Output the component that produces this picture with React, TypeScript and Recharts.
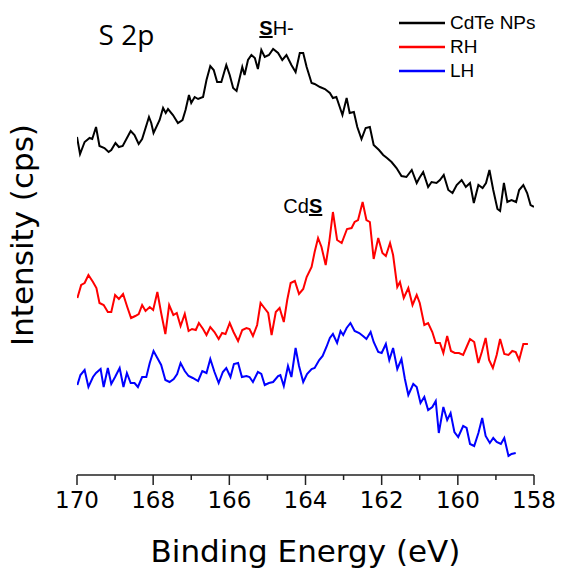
import { LineChart, Line, XAxis, YAxis, Legend, Label, ReferenceDot } from 'recharts'

// S 2p XPS spectra, [binding energy (eV), intensity (a.u.)]
const CDTE_NPS: [number, number][] = [
  [170.0, 338], [169.92, 321], [169.8, 333], [169.67, 337], [169.6, 336], [169.5, 348], [169.41, 329],
  [169.28, 327], [169.17, 323], [169.1, 325], [168.99, 332], [168.9, 328], [168.8, 329], [168.59, 344],
  [168.49, 340], [168.38, 331], [168.29, 336], [168.11, 358], [168.05, 352], [167.99, 342], [167.83, 355],
  [167.74, 367], [167.67, 362], [167.61, 366], [167.48, 360], [167.35, 352], [167.23, 355], [167.15, 365],
  [167.06, 380], [167.0, 372], [166.91, 378], [166.82, 376], [166.69, 378], [166.6, 395], [166.5, 409],
  [166.41, 405], [166.32, 393], [166.21, 393], [166.08, 410], [165.99, 400], [165.9, 387], [165.81, 384],
  [165.66, 408], [165.6, 400], [165.51, 415], [165.42, 420], [165.33, 417], [165.25, 406], [165.16, 425],
  [165.07, 418], [164.96, 420], [164.85, 426], [164.72, 422], [164.61, 415], [164.5, 420], [164.37, 410],
  [164.26, 403], [164.15, 422], [164.06, 422], [163.97, 408], [163.84, 392], [163.76, 391], [163.62, 388],
  [163.49, 386], [163.36, 382], [163.28, 377], [163.19, 378], [163.03, 360], [162.92, 377], [162.84, 362],
  [162.73, 363], [162.64, 348], [162.53, 336], [162.42, 347], [162.31, 348], [162.21, 330], [162.07, 325],
  [161.96, 320], [161.86, 317], [161.74, 313], [161.61, 307], [161.48, 299], [161.35, 298], [161.21, 305],
  [161.08, 292], [161.01, 297], [160.91, 303], [160.78, 288], [160.69, 293], [160.56, 292], [160.47, 295],
  [160.37, 300], [160.25, 285], [160.14, 282], [160.03, 290], [159.9, 295], [159.79, 288], [159.68, 292],
  [159.58, 272], [159.46, 290], [159.35, 287], [159.26, 292], [159.17, 305], [159.07, 285], [158.96, 266],
  [158.89, 264], [158.79, 292], [158.7, 273], [158.59, 275], [158.47, 273], [158.39, 285], [158.28, 290],
  [158.18, 282], [158.09, 270], [158.0, 268],
]

const RH: [number, number][] = [
  [169.99, 177], [169.89, 190], [169.8, 192], [169.7, 200], [169.58, 193], [169.49, 187], [169.41, 172],
  [169.3, 170], [169.19, 163], [169.1, 163], [169.0, 180], [168.9, 176], [168.79, 181], [168.68, 168],
  [168.58, 157], [168.47, 159], [168.38, 161], [168.29, 170], [168.2, 164], [168.09, 168], [168.0, 165],
  [167.89, 183], [167.79, 162], [167.68, 141], [167.58, 170], [167.47, 160], [167.38, 162], [167.28, 149],
  [167.17, 161], [167.07, 144], [166.98, 146], [166.88, 145], [166.8, 152], [166.69, 146], [166.6, 140],
  [166.5, 148], [166.39, 143], [166.28, 136], [166.19, 142], [166.1, 141], [165.99, 152], [165.89, 143],
  [165.77, 134], [165.66, 145], [165.55, 147], [165.47, 146], [165.38, 139], [165.27, 150], [165.18, 172],
  [165.1, 168], [164.98, 162], [164.89, 140], [164.78, 163], [164.68, 167], [164.57, 153], [164.48, 175],
  [164.39, 192], [164.28, 194], [164.17, 181], [164.06, 186], [163.97, 198], [163.84, 208], [163.76, 223],
  [163.67, 237], [163.58, 228], [163.47, 210], [163.38, 232], [163.28, 263], [163.17, 235], [163.05, 232],
  [162.91, 246], [162.79, 247], [162.71, 253], [162.62, 255], [162.5, 273], [162.4, 255], [162.31, 253],
  [162.21, 216], [162.09, 237], [161.98, 222], [161.89, 219], [161.78, 232], [161.7, 220], [161.59, 188],
  [161.52, 193], [161.42, 177], [161.3, 187], [161.19, 170], [161.08, 180], [161.0, 172], [160.88, 150],
  [160.78, 152], [160.67, 143], [160.58, 132], [160.47, 132], [160.38, 122], [160.28, 139], [160.18, 124],
  [160.08, 122], [159.97, 122], [159.86, 120], [159.77, 128], [159.68, 136], [159.57, 133], [159.46, 112],
  [159.37, 123], [159.27, 137], [159.18, 115], [159.08, 107], [158.98, 120], [158.89, 136], [158.78, 121],
  [158.67, 120], [158.57, 124], [158.48, 123], [158.39, 115], [158.28, 131], [158.16, 131],
]

const LH: [number, number][] = [
  [169.99, 90], [169.91, 100], [169.8, 105], [169.7, 88], [169.58, 98], [169.5, 102], [169.38, 106],
  [169.3, 88], [169.19, 107], [169.1, 91], [169.0, 98], [168.88, 107], [168.78, 88], [168.69, 102],
  [168.59, 92], [168.49, 92], [168.4, 88], [168.29, 98], [168.18, 98], [168.09, 112], [167.99, 124],
  [167.89, 117], [167.79, 110], [167.68, 95], [167.57, 93], [167.46, 96], [167.37, 101], [167.28, 112],
  [167.17, 104], [167.07, 99], [166.96, 97], [166.82, 94], [166.71, 104], [166.6, 102], [166.5, 116],
  [166.39, 103], [166.28, 92], [166.17, 103], [166.08, 107], [165.97, 98], [165.88, 111], [165.77, 112],
  [165.67, 98], [165.55, 99], [165.47, 98], [165.38, 93], [165.25, 103], [165.16, 101], [165.07, 90],
  [164.96, 92], [164.85, 93], [164.72, 99], [164.66, 100], [164.57, 89], [164.46, 109], [164.37, 98],
  [164.26, 127], [164.17, 109], [164.06, 93], [163.96, 101], [163.84, 106], [163.76, 107], [163.64, 115],
  [163.55, 119], [163.45, 128], [163.36, 137], [163.28, 141], [163.17, 132], [163.08, 144], [163.01, 140],
  [162.92, 147], [162.82, 152], [162.71, 144], [162.59, 142], [162.49, 139], [162.4, 136], [162.29, 143],
  [162.21, 133], [162.09, 123], [162.0, 122], [161.89, 131], [161.8, 115], [161.7, 127], [161.59, 106],
  [161.48, 116], [161.39, 96], [161.3, 80], [161.17, 91], [161.08, 88], [160.98, 72], [160.88, 78],
  [160.78, 65], [160.67, 68], [160.58, 74], [160.5, 42], [160.38, 68], [160.28, 55], [160.19, 62],
  [160.09, 43], [159.99, 38], [159.86, 49], [159.77, 47], [159.68, 31], [159.57, 29], [159.46, 42],
  [159.36, 57], [159.27, 39], [159.16, 32], [159.07, 37], [158.98, 33], [158.87, 31], [158.78, 37],
  [158.67, 19], [158.59, 21], [158.48, 22],
]

const SERIES_NAMES = ['CdTe NPs', 'RH', 'LH']
const SERIES_COLORS = ['#000000', '#ff0000', '#0000ff']
const ENERGY_TICKS = [170, 169, 168, 167, 166, 165, 164, 163, 162, 161, 160, 159, 158]

const toPoints = (rows: [number, number][]) => rows.map(([E, I]) => ({ E, I }))

const AXIS_FONT = '"DejaVu Sans", sans-serif'
const LABEL_FONT = '"Liberation Sans", Arial, sans-serif'
const PLOT_H = 450

function EnergyTick({ x, y, payload }: any) {
  const major = payload.value % 2 === 0
  return (
    <g>
      <line x1={x} x2={x} y1={y} y2={y + (major ? 10 : 5)} stroke="#222" strokeWidth={1.5} />
      {major && (
        <text x={x} y={y + 33} textAnchor="middle" fontFamily={AXIS_FONT} fontSize={23} fill="#000">
          {payload.value}
        </text>
      )}
    </g>
  )
}

function SeriesLegend({ payload }: any) {
  const items = [...(payload || [])].sort(
    (a: any, b: any) => SERIES_NAMES.indexOf(a.value) - SERIES_NAMES.indexOf(b.value)
  )
  return (
    <div style={{ fontFamily: LABEL_FONT, fontSize: 19, color: '#000' }}>
      {items.map((p: any) => (
        <div key={p.value} style={{ display: 'flex', alignItems: 'center', height: 24 }}>
          <svg width={46} height={4} style={{ marginRight: 5 }}>
            <line x1={0} x2={46} y1={2} y2={2} stroke={p.color} strokeWidth={2.5} />
          </svg>
          <span>{p.value}</span>
        </div>
      ))}
    </div>
  )
}

// axis titles, both hung off the x axis box
function AxisTitles(props: any) {
  const { x, y, width } = props.viewBox
  const ly = y - PLOT_H / 2 - 15
  const lx = x - 44
  return (
    <g fontFamily={AXIS_FONT} fontSize={31} fill="#000">
      <text x={x + width / 2} y={y + 87} textAnchor="middle">
        Binding Energy (eV)
      </text>
      <text x={lx} y={ly} transform={`rotate(-90, ${lx}, ${ly})`} textAnchor="middle">
        Intensity (cps)
      </text>
    </g>
  )
}

// small text placed at a data position
const note = (children: any, size: number, family = LABEL_FONT) => (props: any) => {
  const { x, y, width, height } = props.viewBox
  return (
    <text x={x + width / 2} y={y + height / 2} textAnchor="middle" fontFamily={family} fontSize={size} fill="#000">
      {children}
    </text>
  )
}

export default function App() {
  const series = [CDTE_NPS, RH, LH]
  return (
    <div style={{ position: 'absolute', left: 0, top: 0, background: '#fff' }}>
      <LineChart width={563} height={578} margin={{ top: 25, right: 29, bottom: 13, left: 77 }}>
        <XAxis
          type="number"
          dataKey="E"
          domain={[158, 170]}
          reversed
          ticks={ENERGY_TICKS}
          interval={0}
          tickLine={false}
          tickSize={0}
          tickMargin={0}
          tick={<EnergyTick />}
          height={90}
          axisLine={{ stroke: '#222', strokeWidth: 1.5 }}
          allowDataOverflow
        >
          <Label content={<AxisTitles />} />
        </XAxis>
        <YAxis
          type="number"
          dataKey="I"
          domain={[0, PLOT_H]}
          width={0}
          tick={false}
          tickLine={false}
          axisLine={{ stroke: '#222', strokeWidth: 1.5 }}
          allowDataOverflow
        />
        <Legend
          layout="horizontal"
          verticalAlign="middle"
          align="center"
          wrapperStyle={{ top: 11, left: 399, width: 164 }}
          content={<SeriesLegend />}
        />
        {series.map((rows, i) => (
          <Line
            key={SERIES_NAMES[i]}
            name={SERIES_NAMES[i]}
            data={toPoints(rows)}
            dataKey="I"
            stroke={SERIES_COLORS[i]}
            strokeWidth={2}
            dot={false}
            type="linear"
            isAnimationActive={false}
          />
        ))}
        <ReferenceDot x={168.7} y={430} r={0} fill="none" stroke="none" label={note('S 2p', 28, '"Open Sans", sans-serif')} />
        <ReferenceDot
          x={164.76}
          y={440}
          r={0}
          fill="none"
          stroke="none"
          label={note(
            <>
              <tspan fontWeight="bold" textDecoration="underline">S</tspan>H-
            </>,
            20
          )}
        />
        <ReferenceDot
          x={164.07}
          y={262}
          r={0}
          fill="none"
          stroke="none"
          label={note(
            <>
              Cd<tspan fontWeight="bold" textDecoration="underline">S</tspan>
            </>,
            20
          )}
        />
      </LineChart>
    </div>
  )
}
